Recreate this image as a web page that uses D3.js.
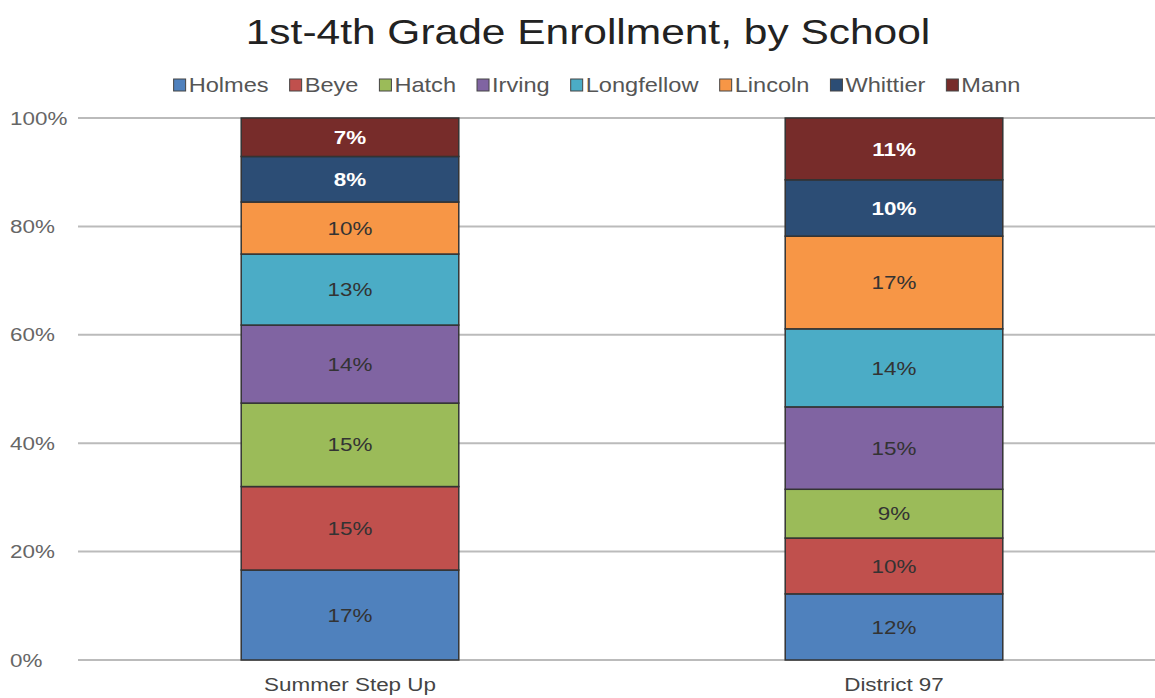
<!DOCTYPE html>
<html>
<head>
<meta charset="utf-8">
<script src="https://cdn.jsdelivr.net/npm/d3@7"></script>
<style>
  body { margin: 0; background: #fff; }
  text { font-family: "Liberation Sans", Arial, sans-serif; }
</style>
</head>
<body>
<svg width="1155" height="698"></svg>
<script>
// data (fractions of 1)
const groups = ["Summer Step Up", "District 97"];
const schools = ["Holmes", "Beye", "Hatch", "Irving", "Longfellow", "Lincoln", "Whittier", "Mann"];
const summerStepUp = [0.166, 0.154, 0.154, 0.144, 0.131, 0.096, 0.084, 0.071];
const district97 = [0.122, 0.103, 0.090, 0.152, 0.144, 0.171, 0.104, 0.114];
const yTicks = [0, 0.2, 0.4, 0.6, 0.8, 1];

const colors = ["#4f81bd", "#c0504d", "#9bbb59", "#8064a2", "#4bacc6", "#f79646", "#2c4d75", "#772c2a"];
const whiteLabels = ["Whittier", "Mann"];

// the original's lettering is set wide, so stretch text horizontally
const sx = 1.18;
const place = (px, py) => `translate(${px},${py}) scale(${sx},1)`;

const svg = d3.select("svg");
const margin = { top: 118, bottom: 38, left: 78 };
const height = 698;

// build rows for d3.stack
const rows = groups.map((g, i) => {
  const vals = i === 0 ? summerStepUp : district97;
  const row = { group: g };
  schools.forEach((s, j) => row[s] = vals[j]);
  return row;
});
const series = d3.stack().keys(schools)(rows);

const x = d3.scaleBand().domain(groups).range([78, 1166]).paddingInner(0.6).paddingOuter(0.3);
const y = d3.scaleLinear().domain([0, 1]).range([height - margin.bottom, margin.top]);
const color = d3.scaleOrdinal().domain(schools).range(colors);

// title
svg.append("text")
  .attr("transform", place(588, 44))
  .attr("text-anchor", "middle")
  .style("font-size", "36px")
  .style("fill", "#222")
  .text("1st-4th Grade Enrollment, by School");

// gridlines
svg.append("g").selectAll("line")
  .data(yTicks).join("line")
  .attr("x1", margin.left).attr("x2", 1155)
  .attr("y1", d => y(d)).attr("y2", d => y(d))
  .attr("stroke", "#bbb").attr("stroke-width", 2);

// y tick labels (left aligned like the original)
svg.append("g").selectAll("text")
  .data(yTicks).join("text")
  .attr("transform", d => place(10, y(d)))
  .attr("dy", "0.35em")
  .style("font-size", "19px")
  .style("fill", "#666")
  .text(d3.format(".0%"));

// bars
const layer = svg.append("g").selectAll("g")
  .data(series).join("g")
  .attr("fill", d => color(d.key));

layer.selectAll("rect")
  .data(d => d.map(p => Object.assign(p, { key: d.key })))
  .join("rect")
  .attr("x", d => x(d.data.group))
  .attr("y", d => y(d[1]))
  .attr("width", x.bandwidth())
  .attr("height", d => y(d[0]) - y(d[1]))
  .attr("stroke", "#333")
  .attr("stroke-width", 1.5);

// value labels
layer.selectAll("text")
  .data(d => d)
  .join("text")
  .attr("transform", d => place(x(d.data.group) + x.bandwidth() / 2, (y(d[0]) + y(d[1])) / 2))
  .attr("dy", "0.35em")
  .attr("text-anchor", "middle")
  .style("font-size", "19px")
  .style("font-weight", d => whiteLabels.includes(d.key) ? "bold" : "normal")
  .style("fill", d => whiteLabels.includes(d.key) ? "#fff" : "#333")
  .text(d => d3.format(".0%")(d[1] - d[0]));

// x axis labels
svg.append("g").selectAll("text")
  .data(groups).join("text")
  .attr("transform", d => place(x(d) + x.bandwidth() / 2, 684))
  .attr("dy", "0.35em")
  .attr("text-anchor", "middle")
  .style("font-size", "19px")
  .style("fill", "#444")
  .text(d => d);

// legend
const legend = svg.append("g");
const items = legend.selectAll("g")
  .data(schools).join("g");
items.append("rect")
  .attr("width", 12).attr("height", 12)
  .attr("y", 79)
  .attr("fill", d => color(d))
  .attr("stroke", "#444").attr("stroke-width", 1);
items.append("text")
  .attr("transform", place(15, 85))
  .attr("dy", "0.35em")
  .style("font-size", "20px")
  .style("fill", "#555")
  .text(d => d);

let offset = 0;
const starts = [];
items.each(function() {
  starts.push(offset);
  const tw = d3.select(this).select("text").node().getBBox().width * sx;
  offset += 15 + tw + 21;
});
const total = offset - 21;
const left = 597 - total / 2;
items.attr("transform", (d, i) => `translate(${left + starts[i]},0)`);
</script>
</body>
</html>
